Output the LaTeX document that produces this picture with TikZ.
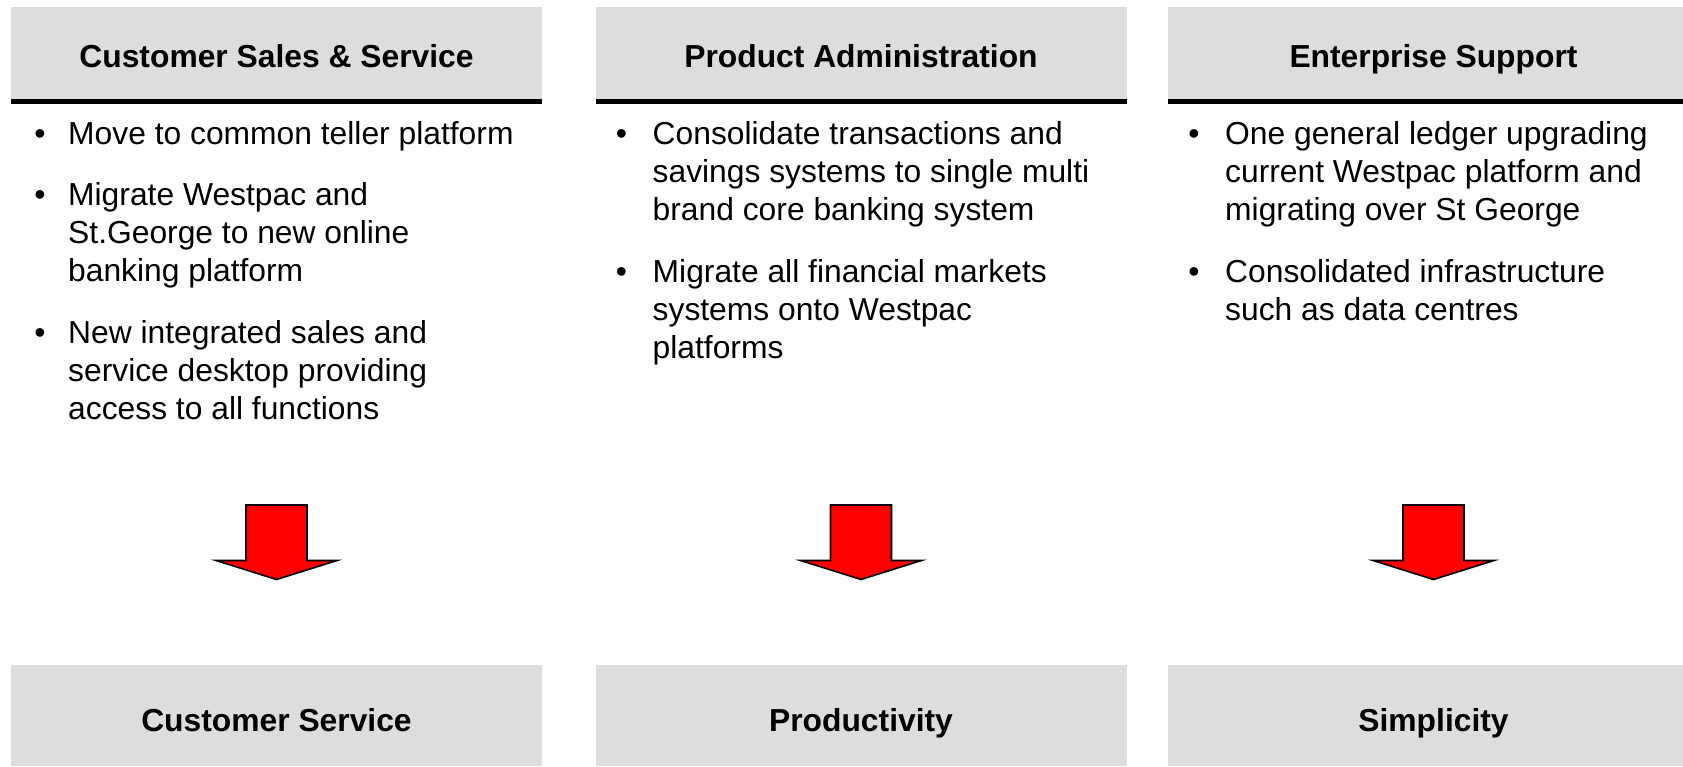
\documentclass[tikz,border=0pt]{standalone}
\usepackage{fontspec}
\setmainfont{Liberation Sans}
\definecolor{panelgray}{RGB}{221,221,221}
\definecolor{arrowred}{RGB}{255,0,0}

\tikzset{
  panel/.style={fill=panelgray, draw=none, inner sep=0pt, anchor=north west},
  headtext/.style={font=\fontsize{31.8}{38}\selectfont\bfseries, anchor=base, inner sep=0pt},
  bodytext/.style={font=\fontsize{31.8}{38}\selectfont, anchor=base west, inner sep=0pt},
  bulletmark/.style={font=\fontsize{32}{38}\selectfont, anchor=base, inner sep=0pt},
  rule/.style={fill=black},
  blockarrow/.pic={
    \draw[fill=arrowred, draw=black, line width=1.6pt, line join=miter]
      (-30.5,0) -- (30.5,0) -- (30.5,55.5) -- (60.5,55.5) -- (0,74.5)
      -- (-60.5,55.5) -- (-30.5,55.5) -- cycle;
  }
}

\newcommand{\bodylines}[1]{\parbox[t]{480pt}{\raggedright #1}}

\begin{document}
\begin{tikzpicture}[x=1pt, y=-1pt]
  \useasboundingbox (0,0) rectangle (1683,766);

  % header panels with their black rule
  \node[panel, minimum width=531pt, minimum height=92pt] (h1) at (11,7) {};
  \node[panel, minimum width=531pt, minimum height=92pt] (h2) at (595.5,7) {};
  \node[panel, minimum width=515pt, minimum height=92pt] (h3) at (1168,7) {};
  \fill[rule] (h1.south west) rectangle ++(531,5);
  \fill[rule] (h2.south west) rectangle ++(531,5);
  \fill[rule] (h3.south west) rectangle ++(515,5);

  \node[headtext] (h1t) at (276.5,67.5) {Customer Sales \& Service};
  \node[headtext] (h2t) at (861,67.5) {Product Administration};
  \node[headtext] (h3t) at (1433.5,67.5) {Enterprise Support};

  % first column
  \node[bulletmark] (m11) at (40,144) {•};
  \node[bodytext] (t11) at (68,144) {\bodylines{Move to common teller platform}};
  \node[bulletmark] (m12) at (40,205) {•};
  \node[bodytext] (t12) at (68,205) {\bodylines{Migrate Westpac and\\St.George to new online\\banking platform}};
  \node[bulletmark] (m13) at (40,343) {•};
  \node[bodytext] (t13) at (68,343) {\bodylines{New integrated sales and\\service desktop providing\\access to all functions}};

  % second column
  \node[bulletmark] (m21) at (621.5,144) {•};
  \node[bodytext] (t21) at (652.5,144) {\bodylines{Consolidate transactions and\\savings systems to single multi\\brand core banking system}};
  \node[bulletmark] (m22) at (621.5,282) {•};
  \node[bodytext] (t22) at (652.5,282) {\bodylines{Migrate all financial markets\\systems onto Westpac\\platforms}};

  % third column
  \node[bulletmark] (m31) at (1194,144) {•};
  \node[bodytext] (t31) at (1225,144) {\bodylines{One general ledger upgrading\\current Westpac platform and\\migrating over St George}};
  \node[bulletmark] (m32) at (1194,282) {•};
  \node[bodytext] (t32) at (1225,282) {\bodylines{Consolidated infrastructure\\such as data centres}};

  % block arrows
  \pic at (276.5,505) {blockarrow};
  \pic at (861,505) {blockarrow};
  \pic at (1433.5,505) {blockarrow};

  % result panels
  \node[panel, minimum width=531pt, minimum height=101pt] (r1) at (11,665) {};
  \node[panel, minimum width=531pt, minimum height=101pt] (r2) at (595.5,665) {};
  \node[panel, minimum width=515pt, minimum height=101pt] (r3) at (1168,665) {};
  \node[headtext] (r1t) at (276.5,731.5) {Customer Service};
  \node[headtext] (r2t) at (861,731.5) {Productivity};
  \node[headtext] (r3t) at (1433.5,731.5) {Simplicity};
\end{tikzpicture}
\end{document}
